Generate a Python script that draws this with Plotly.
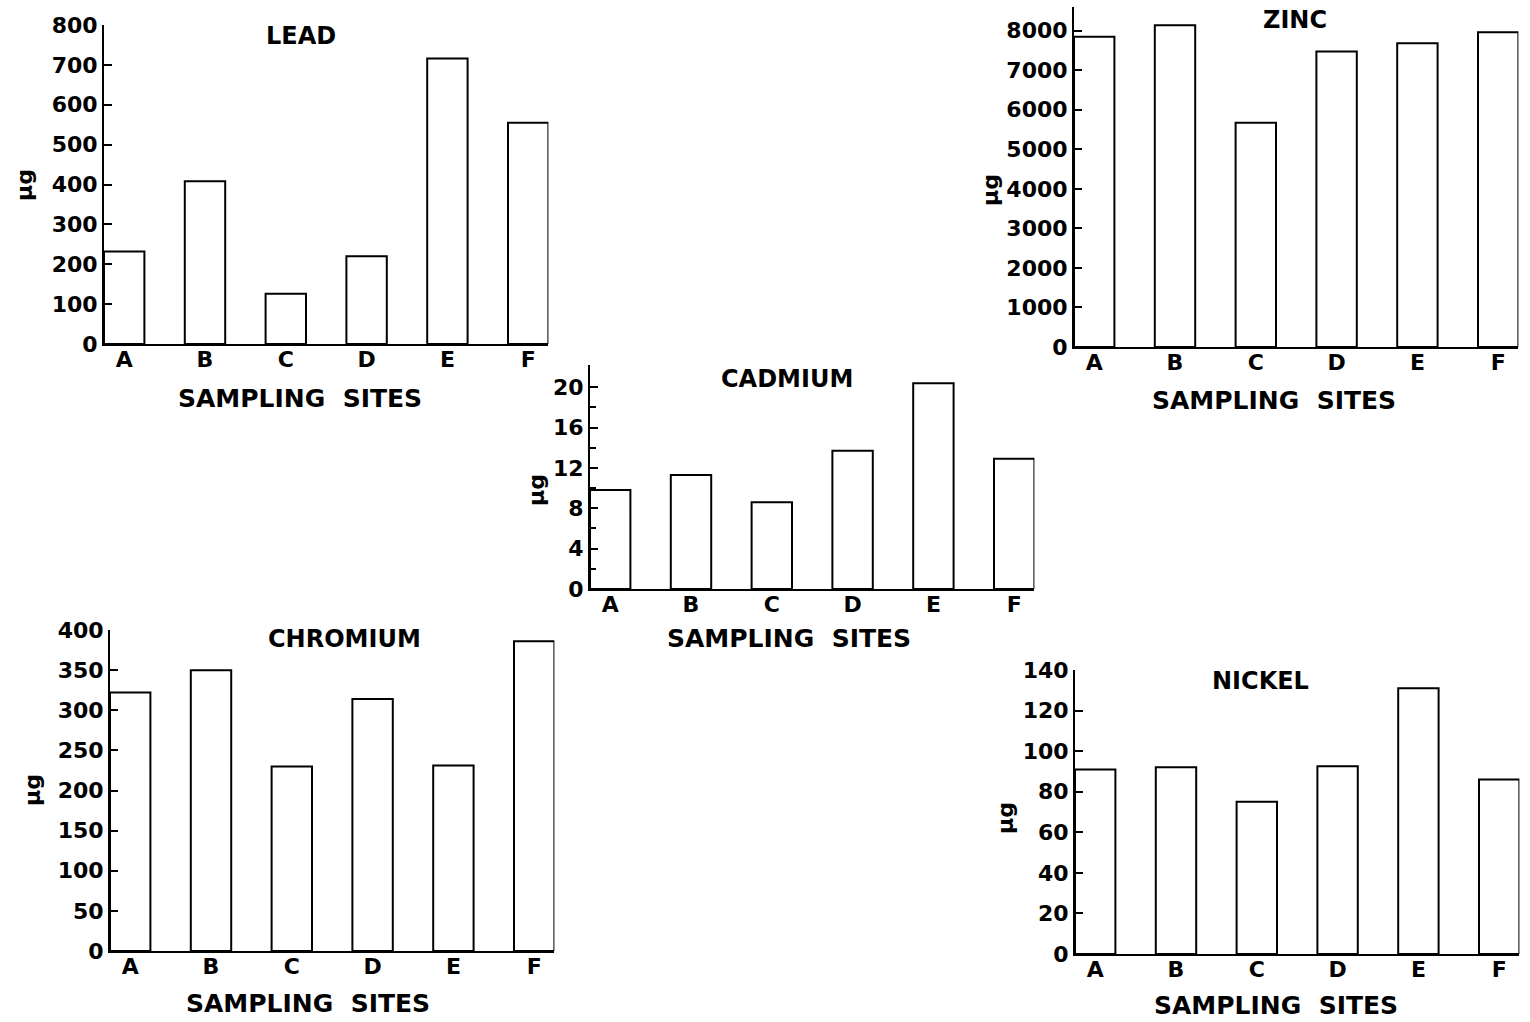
import plotly.graph_objects as go

sites = ["A", "B", "C", "D", "E", "F"]

lead = [232, 408, 126, 220, 716, 555]
zinc = [7850, 8140, 5670, 7475, 7680, 7960]
cadmium = [9.8, 11.3, 8.6, 13.7, 20.4, 12.9]
chromium = [322, 350, 230, 314, 231, 386]
nickel = [91, 92, 75, 92.5, 131, 86]

lead_ticks = [0, 100, 200, 300, 400, 500, 600, 700, 800]
zinc_ticks = [0, 1000, 2000, 3000, 4000, 5000, 6000, 7000, 8000]
cadmium_ticks = [0, 4, 8, 12, 16, 20]
cadmium_minor = [2, 6, 10, 14, 18]
chromium_ticks = [0, 50, 100, 150, 200, 250, 300, 350, 400]
nickel_ticks = [0, 20, 40, 60, 80, 100, 120, 140]

W, H = 1530, 1022
FONT = "DejaVu Sans"

def px(x):
    return x / W

def py(y):
    return 1 - y / H

# panel: (name, values, ticks, yrange, x_left_px, y_bottom_px, y_top_px, title_xy, xlabel_xy, ylabel_xy)
panels = [
    ("LEAD", lead, lead_ticks, [0, 800], 104, 344, 25, (301, 36), (300, 398), (25, 185)),
    ("ZINC", zinc, zinc_ticks, [0, 8600], 1074, 347, 7, (1295, 20), (1274, 401), (990, 190)),
    ("CADMIUM", cadmium, cadmium_ticks, [0, 22.2], 590, 589, 365, (787, 379), (789, 638), (537, 490)),
    ("CHROMIUM", chromium, chromium_ticks, [0, 400], 110, 951, 630, (344, 639), (308, 1003), (32, 790)),
    ("NICKEL", nickel, nickel_ticks, [0, 140], 1075, 954, 670, (1260, 681), (1276, 1005), (1005, 818)),
]

SPACING = 80.8
fig = go.Figure()
annotations = []
layout = {}

for i, (name, vals, ticks, yr, xl, yb, yt, tpos, xlpos, ylpos) in enumerate(panels):
    n = i + 1
    xa = "x" if n == 1 else f"x{n}"
    ya = "y" if n == 1 else f"y{n}"
    fig.add_trace(go.Bar(
        x=sites, y=vals, xaxis=xa, yaxis=ya, width=0.5,
        marker=dict(color="white", line=dict(color="black", width=2)),
        showlegend=False, hoverinfo="x+y",
    ))
    xr = xl + 5.5 * SPACING
    xkey = "xaxis" if n == 1 else f"xaxis{n}"
    ykey = "yaxis" if n == 1 else f"yaxis{n}"
    layout[xkey] = dict(
        domain=[px(xl), px(xr)], anchor=ya, type="category",
        range=[-0.25, 5.25], showline=True, linecolor="black", linewidth=2,
        ticks="", showgrid=False, zeroline=False, automargin=False,
        ticklabelstandoff=-5,
        tickfont=dict(family=FONT, size=22, color="black", weight="bold"),
        fixedrange=True,
    )
    yaxis = dict(
        domain=[py(yb), py(yt)], anchor=xa, range=yr,
        tickvals=ticks, ticktext=[str(t) for t in ticks],
        showline=True, linecolor="black", linewidth=2,
        ticks="inside", ticklen=8, tickwidth=2, tickcolor="black",
        showgrid=False, zeroline=False, automargin=False,
        tickfont=dict(family=FONT, size=22, color="black", weight="bold"),
        fixedrange=True,
    )
    if name == "CADMIUM":
        yaxis["minor"] = dict(tickvals=cadmium_minor, ticks="inside",
                              ticklen=6, tickwidth=2, tickcolor="black")
    layout[ykey] = yaxis

    annotations.append(dict(text=name, x=px(tpos[0]), y=py(tpos[1]), xref="paper", yref="paper",
                            showarrow=False, xanchor="center", yanchor="middle",
                            font=dict(family=FONT, size=24, color="black", weight="bold")))
    annotations.append(dict(text="SAMPLING  SITES", x=px(xlpos[0]), y=py(xlpos[1]), xref="paper", yref="paper",
                            showarrow=False, xanchor="center", yanchor="middle",
                            font=dict(family=FONT, size=25, color="black", weight="bold")))
    annotations.append(dict(text="µg", x=px(ylpos[0]), y=py(ylpos[1]), xref="paper", yref="paper",
                            showarrow=False, xanchor="center", yanchor="middle", textangle=-90,
                            font=dict(family=FONT, size=22, color="black", weight="bold")))

fig.update_layout(
    width=W, height=H, margin=dict(l=0, r=0, t=0, b=0, autoexpand=False),
    paper_bgcolor="white", plot_bgcolor="white",
    annotations=annotations, bargap=0.5, **layout,
)

fig.write_html("out.html", config={"displayModeBar": False},
               post_script="document.body.style.margin='0';")
